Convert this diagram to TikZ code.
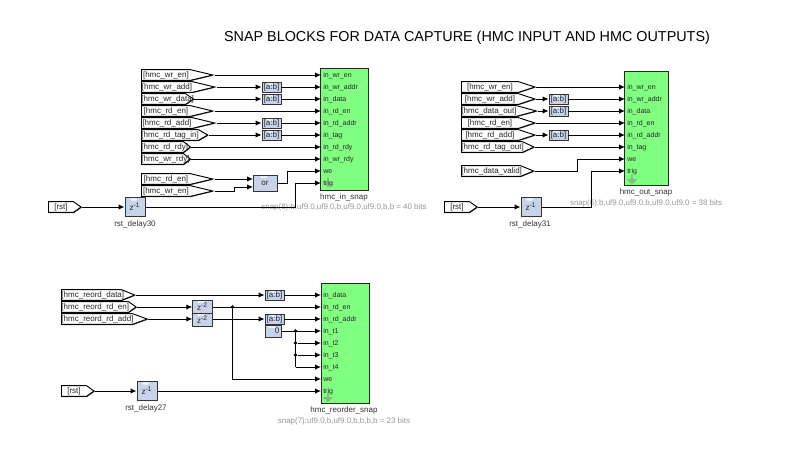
\documentclass[tikz,border=0pt]{standalone}
\usepackage{fontspec}
\setmainfont{Liberation Sans}
\usetikzlibrary{arrows.meta,shapes.symbols,shapes.arrows,shadows}
\definecolor{snapgreen}{RGB}{128,255,128}
\definecolor{xilblue}{RGB}{198,211,235}
\definecolor{snapgray}{RGB}{150,150,150}

\begin{document}
\begin{tikzpicture}[
    x=0.75pt, y=-0.75pt,
    tagbox/.style 2 args={signal, signal to=east, draw, fill=white, anchor=west,
                 inner xsep=0pt, inner ysep=0pt, minimum height=8pt, line width=0.7pt,
                 text width=0.75pt*#1, align=center, signal pointer angle=#2,
                 font=\fontsize{6}{7}\selectfont, text=black!85,
                 drop shadow={shadow xshift=0.5pt, shadow yshift=-0.5pt, fill=black!70, opacity=1}},
    xilblock/.style={rectangle, draw=black!80, fill=xilblue, inner sep=0pt, line width=0.7pt,
                 font=\fontsize{6}{7}\selectfont, text=black!85,
                 drop shadow={shadow xshift=0.5pt, shadow yshift=-0.5pt, fill=black!40, opacity=1},
                 path picture={\fill[white, opacity=0.7] (path picture bounding box.north) ++(-1pt,-1.3pt) ellipse (3pt and 1.1pt);}},
    sliceblock/.style={xilblock, minimum width=14.2pt, minimum height=7.5pt},
    delayblock/.style={xilblock, minimum width=15pt, minimum height=14pt},
    snapblock/.style={rectangle, draw=black!85, fill=snapgreen, line width=0.7pt, inner sep=0pt,
                 drop shadow={shadow xshift=0.7pt, shadow yshift=-0.7pt, fill=black!40, opacity=1}},
    portlabel/.style={anchor=west, inner xsep=1.5pt, inner ysep=0pt, text=black!85, text height=4.6pt, text depth=0.6pt,
                 font=\fontsize{5.25}{6.5}\selectfont},
    blocklabel/.style={inner sep=0pt, text=black!80, font=\fontsize{6}{7}\selectfont},
    bitslabel/.style={inner sep=0pt, text=snapgray, font=\fontsize{5.95}{7}\selectfont},
    trigmark/.style={single arrow, shape border rotate=270, fill=black!50, opacity=0.5, inner sep=0pt,
                 minimum width=8pt, minimum height=7.5pt, single arrow head extend=1pt},
    wire/.style={line width=0.7pt, -{Latex[length=4.5pt,width=4pt]}},
    dotwire/.style={line width=0.7pt},
    joint/.style={circle, fill=black, inner sep=0pt, minimum size=2.8pt}
]
\useasboundingbox (0,0) rectangle (798,453);

% Title
\node[font=\fontsize{10.78}{12}\selectfont, inner sep=0pt] (title) at (467,37.5) {SNAP BLOCKS FOR DATA CAPTURE (HMC INPUT AND HMC OUTPUTS)};

% hmc_in_snap
\node[snapblock, minimum width=35.5pt, minimum height=91.5pt] (insnap) at (344.5,129.5) {};
\node[portlabel] (inwren) at (321,75) {in\_wr\_en};
\node[portlabel] (inwraddr) at (321,87) {in\_wr\_addr};
\node[portlabel] (indata) at (321,99) {in\_data};
\node[portlabel] (inrden) at (321,111) {in\_rd\_en};
\node[portlabel] (inrdaddr) at (321,123) {in\_rd\_addr};
\node[portlabel] (intag) at (321,135) {in\_tag};
\node[portlabel] (inrdrdy) at (321,147) {in\_rd\_rdy};
\node[portlabel] (inwrrdy) at (321,159) {in\_wr\_rdy};
\node[portlabel] (inwe) at (321,171) {we};
\node[portlabel] (intrig) at (321,183) {trig};
\node[trigmark] (intrigmark) at (328,182) {};
\node[blocklabel] (insnaplabel) at (344,197) {hmc\_in\_snap};
\node[bitslabel] (insnapbits) at (344,207) {snap(8):b,uf9.0,uf9.0,b,uf9.0,uf9.0,b,b = 40 bits};

\node[tagbox={49}{27}] (inwrentag) at (141,75) {[hmc\_wr\_en]};
\node[tagbox={51}{27}] (inwraddtag) at (141,87) {[hmc\_wr\_add]};
\node[tagbox={44}{67}] (inwrdatatag) at (141,99) {[hmc\_wr\_data]};
\node[tagbox={49}{27}] (inrdentag) at (141,111) {[hmc\_rd\_en]};
\node[tagbox={51}{27}] (inrdaddtag) at (141,123) {[hmc\_rd\_add]};
\node[tagbox={57}{60}] (inrdtagtag) at (141,135) {[hmc\_rd\_tag\_in]};
\node[tagbox={42}{75}] (inrdrdytag) at (141,147) {[hmc\_rd\_rdy]};
\node[tagbox={42}{75}] (inwrrdytag) at (141,159) {[hmc\_wr\_rdy]};
\node[tagbox={49}{27}] (inrdentwo) at (141,179) {[hmc\_rd\_en]};
\node[tagbox={49}{27}] (inwrentwo) at (141,191) {[hmc\_wr\_en]};
\node[tagbox={25}{70}] (inrsttag) at (48,207) {[rst]};

\node[sliceblock] (inslicea) at (271.5,87) {[a:b]};
\node[sliceblock] (insliceb) at (271.5,99) {[a:b]};
\node[sliceblock] (inslicec) at (271.5,123) {[a:b]};
\node[sliceblock] (insliced) at (271.5,135) {[a:b]};
\node[xilblock, minimum width=18pt, minimum height=12pt] (inor) at (265,183) {or};
\coordinate (inorone) at (253,179);
\coordinate (inortwo) at (253,187);
\node[delayblock] (rstdelaythirty) at (135,207) {z\textsuperscript{-1}};
\node[blocklabel] (rstdelaythirtylabel) at (135,224) {rst\_delay30};

\draw[wire] (inwrentag.east) -- (inwren.west);
\draw[wire] (inwraddtag.east) -- (inslicea.west);
\draw[wire] (inslicea.east) -- (inwraddr.west);
\draw[wire] (inwrdatatag.east) -- (insliceb.west);
\draw[wire] (insliceb.east) -- (indata.west);
\draw[wire] (inrdentag.east) -- (inrden.west);
\draw[wire] (inrdaddtag.east) -- (inslicec.west);
\draw[wire] (inslicec.east) -- (inrdaddr.west);
\draw[wire] (inrdtagtag.east) -- (insliced.west);
\draw[wire] (insliced.east) -- (intag.west);
\draw[wire] (inrdrdytag.east) -- (inrdrdy.west);
\draw[wire] (inwrrdytag.east) -- (inwrrdy.west);
\draw[wire] (inrdentwo.east) -- (inorone);
\draw[wire] (inwrentwo.east) -- ++(20,0) |- (inortwo);
\draw[wire] (inor.east) -- ++(10,0) |- (inwe.west);
\draw[wire] (inrsttag.east) -- (rstdelaythirty.west);
\draw[wire] (rstdelaythirty.east) -- ++(150,0) |- (intrig.west);

% hmc_out_snap
\node[snapblock, minimum width=33pt, minimum height=85pt] (outsnap) at (646.5,128.5) {};
\node[portlabel] (outwren) at (625,87) {in\_wr\_en};
\node[portlabel] (outwraddr) at (625,99) {in\_wr\_addr};
\node[portlabel] (outdata) at (625,111) {in\_data};
\node[portlabel] (outrden) at (625,123) {in\_rd\_en};
\node[portlabel] (outrdaddr) at (625,135) {in\_rd\_addr};
\node[portlabel] (outtag) at (625,147) {in\_tag};
\node[portlabel] (outwe) at (625,159) {we};
\node[portlabel] (outtrig) at (625,171) {trig};
\node[trigmark] (outtrigmark) at (632,179) {};
\node[blocklabel] (outsnaplabel) at (646,192) {hmc\_out\_snap};
\node[bitslabel] (outsnapbits) at (646,203) {snap(6):b,uf9.0,uf9.0,b,uf9.0,uf9.0 = 38 bits};

\node[tagbox={57}{36}] (outwrentag) at (461,87) {[hmc\_wr\_en]};
\node[tagbox={57}{36}] (outwraddtag) at (461,99) {[hmc\_wr\_add]};
\node[tagbox={55}{30}] (outdatatag) at (461,111) {[hmc\_data\_out]};
\node[tagbox={57}{36}] (outrdentag) at (461,123) {[hmc\_rd\_en]};
\node[tagbox={57}{36}] (outrdaddtag) at (461,135) {[hmc\_rd\_add]};
\node[tagbox={61}{50}] (outrdtagtag) at (461,147) {[hmc\_rd\_tag\_out]};
\node[tagbox={59}{44}] (outvalidtag) at (461,171) {[hmc\_data\_valid]};
\node[tagbox={25}{70}] (outrsttag) at (444,207) {[rst]};

\node[sliceblock] (outslicea) at (558.5,99) {[a:b]};
\node[sliceblock] (outsliceb) at (558.5,111) {[a:b]};
\node[sliceblock] (outslicec) at (558.5,135) {[a:b]};
\node[delayblock] (rstdelaythirtyone) at (531,207) {z\textsuperscript{-1}};
\node[blocklabel] (rstdelaythirtyonelabel) at (530,224) {rst\_delay31};

\draw[wire] (outwrentag.east) -- (outwren.west);
\draw[wire] (outwraddtag.east) -- (outslicea.west);
\draw[wire] (outslicea.east) -- (outwraddr.west);
\draw[wire] (outdatatag.east) -- (outsliceb.west);
\draw[wire] (outsliceb.east) -- (outdata.west);
\draw[wire] (outrdentag.east) -- (outrden.west);
\draw[wire] (outrdaddtag.east) -- (outslicec.west);
\draw[wire] (outslicec.east) -- (outrdaddr.west);
\draw[wire] (outrdtagtag.east) -- (outtag.west);
\draw[wire] (outvalidtag.east) -- ++(43,0) |- (outwe.west);
\draw[wire] (outrsttag.east) -- (rstdelaythirtyone.west);
\draw[wire] (rstdelaythirtyone.east) -- ++(50,0) |- (outtrig.west);

% hmc_reorder_snap
\node[snapblock, minimum width=36pt, minimum height=90pt] (reordsnap) at (345,343) {};
\node[portlabel] (reorddata) at (321,295) {in\_data};
\node[portlabel] (reordrden) at (321,307) {in\_rd\_en};
\node[portlabel] (reordrdaddr) at (321,319) {in\_rd\_addr};
\node[portlabel] (reordtone) at (321,331) {in\_t1};
\node[portlabel] (reordttwo) at (321,343) {in\_t2};
\node[portlabel] (reordtthree) at (321,355) {in\_t3};
\node[portlabel] (reordtfour) at (321,367) {in\_t4};
\node[portlabel] (reordwe) at (321,379) {we};
\node[portlabel] (reordtrig) at (321,391) {trig};
\node[trigmark] (reordtrigmark) at (328,397) {};
\node[blocklabel] (reordsnaplabel) at (344,410) {hmc\_reorder\_snap};
\node[bitslabel] (reordsnapbits) at (344,421) {snap(7):uf9.0,b,uf9.0,b,b,b,b = 23 bits};

\node[tagbox={60}{44}] (reorddatatag) at (61,295) {[hmc\_reord\_data]};
\node[tagbox={67}{70}] (reordrdentag) at (61,307) {[hmc\_reord\_rd\_en]};
\node[tagbox={71}{40}] (reordrdaddtag) at (61,319) {[hmc\_reord\_rd\_add]};
\node[tagbox={25}{70}] (reordrsttag) at (61,391) {[rst]};

\node[xilblock, minimum width=14.5pt, minimum height=9.7pt] (reorddelaya) at (202.5,306.5) {z\textsuperscript{-2}};
\node[xilblock, minimum width=14.5pt, minimum height=9.7pt] (reorddelayb) at (202.5,319.5) {z\textsuperscript{-2}};
\node[sliceblock] (reordslicea) at (274.5,295) {[a:b]};
\node[sliceblock] (reordsliceb) at (274.5,319) {[a:b]};
\node[xilblock, minimum width=12pt, minimum height=9pt] (reordzero) at (273,331) {\hspace*{6pt}0};
\node[delayblock] (rstdelaytwentyseven) at (147,391) {z\textsuperscript{-1}};
\node[blocklabel] (rstdelaytwentysevenlabel) at (146,408) {rst\_delay27};

\node[joint] (reordenjoint) at (232.5,307) {};
\node[joint] (reordtonejoint) at (295.5,331) {};
\node[joint] (reordttwojoint) at (295.5,343) {};
\node[joint] (reordtthreejoint) at (295.5,355) {};
\coordinate (reordtfourbend) at (295.5,367);

\draw[wire] (reorddatatag.east) -- (reordslicea.west);
\draw[wire] (reordslicea.east) -- (reorddata.west);
\draw[wire] (reordrdentag.east) -- (reorddelaya.west |- reordrdentag.east);
\draw[wire] (reordrdaddtag.east) -- (reorddelayb.west |- reordrdaddtag.east);
\draw[wire] (reorddelaya.east |- reordrden.west) -- (reordrden.west);
\draw[wire] (reorddelayb.east |- reordsliceb.west) -- (reordsliceb.west);
\draw[wire] (reordsliceb.east) -- (reordrdaddr.west);
\draw[wire] (reordenjoint) |- (reordwe.west);
\draw[wire] (reordzero.east) -- (reordtone.west);
\draw[dotwire] (reordtonejoint) -- (reordtfourbend);
\draw[wire] (reordttwojoint) -- (reordttwo.west);
\draw[wire] (reordtthreejoint) -- (reordtthree.west);
\draw[wire] (reordtfourbend) -- (reordtfour.west);
\draw[wire] (reordrsttag.east) -- (rstdelaytwentyseven.west);
\draw[wire] (rstdelaytwentyseven.east) -- (reordtrig.west);

\end{tikzpicture}
\end{document}
